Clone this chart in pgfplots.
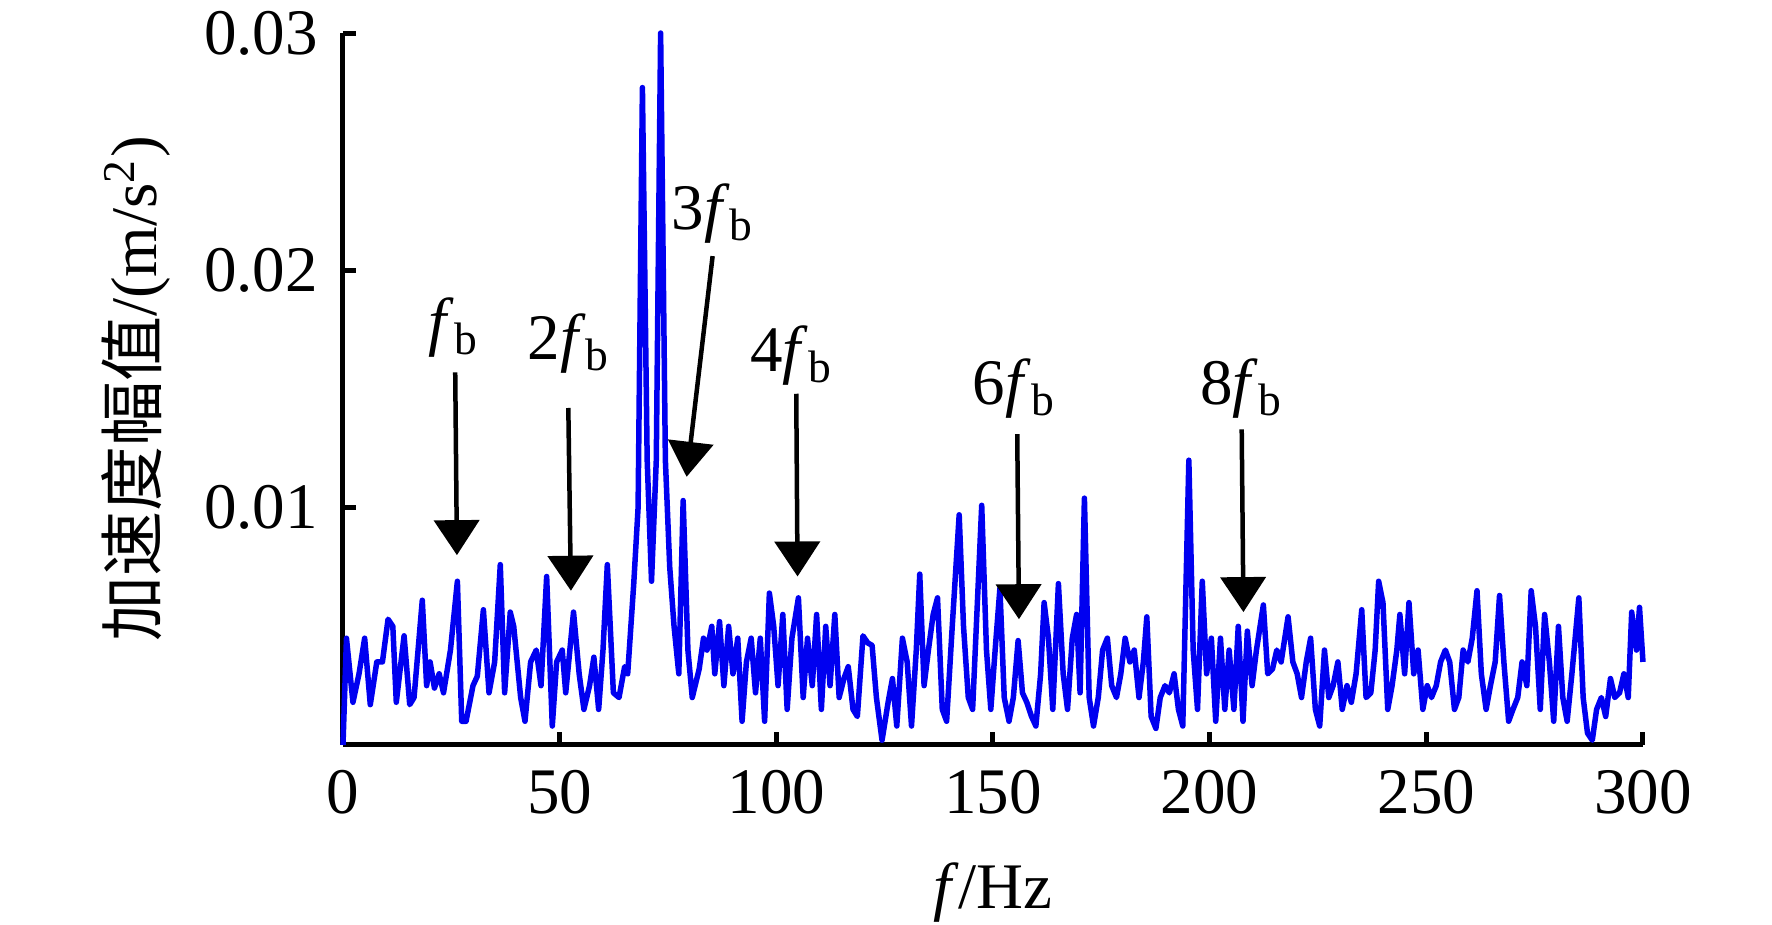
\documentclass[border=0pt]{standalone}
\usepackage{pgfplots}
\pgfplotsset{compat=1.18}
\usepackage{fontspec}
\setmainfont{Liberation Serif}
\newfontfamily\cjk{Noto Sans CJK SC}
\usetikzlibrary{arrows.meta}
\begin{document}
\begin{tikzpicture}[font=\fontsize{13pt}{15.6pt}\selectfont]
\begin{axis}[
  at={(0,0)}, anchor=south west,
  scale only axis, width=260pt, height=142.4pt,
  xmin=0, xmax=300, ymin=0, ymax=0.03,
  axis x line*=bottom, axis y line*=left,
  axis line style={line width=1pt, -},
  xtick={0,50,...,300}, ytick={0.01,0.02,0.03},
  tick align=inside, major tick length=2.6pt,
  tick style={line width=1pt, black},
  scaled y ticks=false,
  yticklabel style={/pgf/number format/fixed, /pgf/number format/fixed zerofill, /pgf/number format/precision=2, xshift=-1.5pt},
  xticklabel style={yshift=-1.5pt},
  /pgf/number format/assume math mode=true,
  tick label style={font=\fontsize{13pt}{15.6pt}\selectfont},
  xlabel={\textit{f}/Hz},
  ylabel={{\cjk 加速度幅值}/(m/s\textsuperscript{2})},
  every axis x label/.style={at={(axis description cs:0.5,0)}, yshift=-29.5pt, anchor=center},
  every axis y label/.style={at={(axis description cs:0,0.5)}, xshift=-41.4pt, rotate=90, anchor=center},
  label style={font=\fontsize{13pt}{15.6pt}\selectfont},
  clip=false,
]
\addplot[color={rgb,255:red,0;green,0;blue,240}, line width=1.1pt, no marks, line join=round] table {
x y
0.0 0
0.8 0.0045
2.3 0.0018
3.7 0.0030
5.0 0.0045
6.3 0.0017
7.8 0.0035
9.1 0.0035
10.4 0.0053
11.5 0.0050
12.3 0.0018
14.1 0.0046
15.4 0.0017
16.4 0.0020
18.3 0.0061
19.3 0.0025
20.1 0.0035
21.1 0.0024
22.2 0.0030
23.2 0.0022
24.8 0.0040
26.4 0.0069
27.4 0.0010
28.4 0.0010
30.0 0.0025
31.0 0.0029
32.4 0.0057
33.7 0.0022
35.0 0.0035
36.3 0.0076
37.3 0.0022
38.6 0.0056
39.4 0.0050
41.0 0.0020
42.0 0.0010
43.3 0.0035
44.6 0.0040
45.7 0.0025
47.0 0.0071
48.3 0.0008
49.3 0.0035
50.6 0.0040
51.4 0.0022
53.2 0.0056
54.5 0.0030
55.6 0.0015
56.9 0.0025
57.9 0.0037
59.0 0.0015
60.0 0.0040
61.0 0.0076
62.4 0.0022
63.7 0.0020
65.0 0.0033
65.7 0.0030
67.1 0.0068
68.1 0.0100
69.1 0.0277
70.2 0.0120
71.2 0.0069
72.3 0.0120
73.3 0.0300
74.4 0.0120
75.4 0.0075
76.4 0.0050
77.5 0.0030
78.5 0.0103
79.6 0.0040
80.6 0.0020
82.2 0.0032
83.2 0.0045
84.0 0.0040
85.1 0.0050
85.8 0.0030
86.9 0.0052
87.9 0.0025
89.0 0.0050
90.0 0.0030
91.1 0.0045
92.1 0.0010
93.1 0.0035
94.2 0.0045
95.2 0.0022
96.3 0.0045
97.3 0.0010
98.4 0.0064
99.4 0.0050
100.4 0.0025
101.5 0.0055
102.5 0.0015
103.6 0.0045
105.1 0.0062
106.2 0.0020
107.2 0.0045
108.3 0.0025
109.3 0.0055
110.4 0.0015
111.4 0.0050
112.4 0.0025
113.5 0.0055
114.5 0.0020
115.6 0.0028
116.6 0.0033
117.7 0.0015
118.7 0.0012
120.0 0.0046
121.1 0.0043
122.1 0.0042
123.1 0.0020
124.4 0.0002
125.8 0.0018
126.8 0.0028
127.8 0.0008
129.1 0.0045
130.2 0.0035
131.2 0.0008
132.3 0.0040
133.1 0.0072
134.1 0.0025
135.1 0.0040
136.2 0.0055
137.2 0.0062
138.3 0.0015
139.3 0.0010
140.6 0.0050
142.2 0.0097
143.2 0.0050
144.3 0.0020
145.3 0.0015
146.4 0.0060
147.4 0.0101
148.5 0.0040
149.5 0.0015
150.5 0.0040
151.6 0.0066
152.6 0.0020
153.7 0.0010
154.7 0.0020
155.8 0.0044
156.8 0.0022
157.8 0.0018
158.9 0.0012
159.9 0.0008
161.0 0.0030
161.8 0.0060
162.8 0.0045
163.8 0.0015
165.1 0.0068
166.2 0.0030
167.2 0.0015
168.3 0.0045
169.3 0.0055
170.1 0.0022
171.1 0.0104
172.2 0.0020
173.2 0.0008
174.3 0.0020
175.3 0.0040
176.4 0.0045
177.4 0.0025
178.5 0.0020
179.5 0.0030
180.5 0.0045
181.6 0.0035
182.6 0.0040
183.7 0.0020
184.7 0.0035
185.5 0.0054
186.5 0.0012
187.6 0.0007
188.6 0.0020
189.7 0.0025
190.7 0.0022
191.8 0.0030
192.8 0.0015
193.8 0.0008
195.2 0.0120
196.2 0.0040
197.2 0.0015
198.3 0.0069
199.3 0.0030
200.4 0.0045
201.4 0.0010
202.5 0.0045
203.5 0.0015
204.5 0.0040
205.6 0.0015
206.6 0.0050
207.7 0.0010
208.7 0.0048
209.8 0.0025
210.8 0.0040
212.4 0.0059
213.4 0.0030
214.5 0.0032
215.5 0.0040
216.5 0.0035
218.1 0.0054
219.2 0.0035
220.2 0.0030
221.2 0.0020
222.3 0.0035
223.3 0.0045
224.4 0.0015
225.4 0.0008
226.5 0.0040
227.5 0.0020
228.5 0.0025
229.6 0.0035
230.6 0.0015
231.7 0.0025
232.7 0.0018
233.8 0.0030
235.1 0.0057
236.1 0.0020
237.2 0.0022
238.2 0.0040
239.0 0.0069
240.0 0.0060
241.1 0.0015
242.1 0.0025
243.2 0.0040
243.9 0.0055
245.0 0.0030
246.0 0.0060
247.1 0.0030
248.1 0.0040
249.2 0.0015
250.2 0.0025
251.2 0.0020
252.3 0.0025
253.3 0.0035
254.4 0.0040
255.4 0.0035
256.5 0.0015
257.5 0.0020
258.5 0.0040
259.6 0.0035
260.6 0.0045
261.7 0.0065
262.7 0.0030
263.8 0.0015
264.8 0.0025
265.9 0.0035
266.9 0.0063
267.9 0.0035
269.0 0.0010
270.0 0.0015
271.1 0.0020
272.1 0.0035
273.2 0.0025
274.2 0.0065
275.2 0.0050
276.3 0.0015
277.3 0.0055
278.4 0.0035
279.4 0.0010
280.5 0.0050
281.5 0.0020
282.5 0.0010
283.6 0.0030
285.2 0.0062
286.2 0.0020
287.2 0.0005
288.3 0.0002
289.3 0.0015
290.4 0.0020
291.4 0.0012
292.5 0.0028
293.5 0.0020
294.6 0.0022
295.6 0.0030
296.6 0.0020
297.4 0.0056
298.5 0.0040
299.2 0.0058
300.0 0.0035
};
\tikzset{ann/.style={-{Triangle[width=9pt,length=7pt]}, line width=0.9pt, black}}
\draw[ann] (axis cs:25.9,0.0157) -- (axis cs:26.3,0.0080);
\node at (axis cs:25.6,0.0176) {\textit{f}\textsubscript{b}};
\draw[ann] (axis cs:52.0,0.0142) -- (axis cs:52.6,0.0065);
\node at (axis cs:52.2,0.0169) {2\textit{f}\textsubscript{b}};
\draw[ann] (axis cs:85.3,0.0206) -- (axis cs:79.3,0.0113);
\node at (axis cs:85.5,0.0224) {3\textit{f}\textsubscript{b}};
\draw[ann] (axis cs:104.6,0.0148) -- (axis cs:104.9,0.0071);
\node at (axis cs:103.6,0.0164) {4\textit{f}\textsubscript{b}};
\draw[ann] (axis cs:155.6,0.0131) -- (axis cs:156.0,0.0053);
\node at (axis cs:155.0,0.0150) {6\textit{f}\textsubscript{b}};
\draw[ann] (axis cs:207.4,0.0133) -- (axis cs:207.8,0.0056);
\node at (axis cs:207.4,0.0150) {8\textit{f}\textsubscript{b}};
\end{axis}
\pgfresetboundingbox
\path[use as bounding box] (-68.6pt,-36pt) rectangle (285.8pt,149pt);
\end{tikzpicture}
\end{document}
